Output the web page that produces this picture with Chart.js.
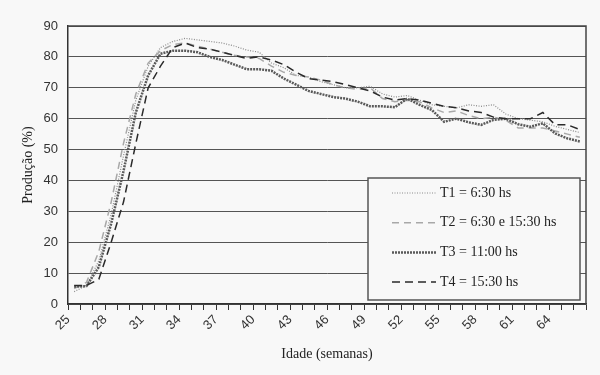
<!DOCTYPE html>
<html lang="pt">
<head>
<meta charset="UTF-8">
<title>Produção</title>
<script src="https://cdn.jsdelivr.net/npm/chart.js@4.4.1/dist/chart.umd.min.js"></script>
<style>
  html, body { margin: 0; padding: 0; background: #f8f8f8; }
  #wrap { width: 600px; height: 375px; }
</style>
</head>
<body>
<div id="wrap"><canvas id="chart" width="600" height="375"></canvas></div>
<script>
  // weeks of age (x) and production (%) per treatment
  const weeks = [25.5, 26.5, 27.5, 28.5, 29.5, 30.5, 31.5, 32.5, 33.5, 34.5,
    35.5, 36.5, 37.5, 38.5, 39.5, 40.5, 41.5, 42.5, 43.5, 44.5,
    45.5, 46.5, 47.5, 48.5, 49.5, 50.5, 51.5, 52.5, 53.5, 54.5,
    55.5, 56.5, 57.5, 58.5, 59.5, 60.5, 61.5, 62.5, 63.5, 64.5,
    65.5, 66.5];
  const t1 = [4, 6, 14, 29, 48, 66, 77, 83, 85, 86,
    85.5, 85, 84.5, 83.5, 82.2, 81.5, 78, 76.5, 74, 73.5,
    72, 71, 70, 70, 70.5, 68, 67, 67.5, 66, 64.5,
    64, 63.5, 64.5, 64, 64.5, 61.5, 60, 59.5, 59, 57.5,
    56.5, 55.5];
  const t2 = [5, 7, 17, 33, 52, 68, 78, 82, 84, 84.5,
    83.5, 82.5, 81.5, 80.5, 80, 79.5, 77, 75, 74, 73.5,
    72.5, 71, 70, 69.5, 70, 66.5, 65.5, 66, 65.5, 63.5,
    62, 62.5, 61, 60, 60.5, 59.5, 57, 57, 57, 56,
    55, 54];
  const t3 = [5.6, 5.8, 12, 26, 43, 62, 74, 81, 82, 82,
    81.5, 80, 79, 77.5, 76, 76, 75.5, 73, 71, 69,
    68, 67, 66.5, 65.5, 64, 64, 63.7, 66.5, 64.5, 62.8,
    59, 60, 58.8, 58, 59.6, 60, 58.2, 57.4, 58.5, 55.2,
    53.6, 52.6];
  const t4 = [6, 6, 8, 20, 33, 52, 70, 77, 83, 84.5,
    83, 82.5, 81.5, 80.5, 79.5, 80, 79, 77.5, 75, 73,
    72.5, 72, 71, 70, 69, 67, 66, 66.5, 66, 65,
    64, 63.5, 62.5, 62, 60.5, 60, 60, 60, 62, 58,
    58, 56.5];
  const seriesNames = ['T1 = 6:30 hs', 'T2 = 6:30 e 15:30 hs', 'T3 = 11:00 hs', 'T4 = 15:30 hs'];
  const xLabels = [25, 28, 31, 34, 37, 40, 43, 46, 49, 52, 55, 58, 61, 64];

  const BG = '#f8f8f8';

  function pts(values) {
    return values.map((v, i) => ({ x: weeks[i], y: v }));
  }

  const bgPlugin = {
    id: 'bg',
    beforeDraw(chart) {
      const ctx = chart.ctx;
      ctx.save();
      ctx.fillStyle = BG;
      ctx.fillRect(0, 0, chart.width, chart.height);
      ctx.restore();
    },
    beforeDatasetsDraw(chart) {
      const ctx = chart.ctx, a = chart.chartArea;
      ctx.save();
      ctx.strokeStyle = '#444';
      ctx.lineWidth = 1.5;
      ctx.beginPath();
      ctx.moveTo(a.left, a.top);
      ctx.lineTo(a.right, a.top);
      ctx.lineTo(a.right, a.bottom);
      ctx.stroke();
      ctx.restore();
    }
  };

  // legend box drawn inside the plot, lower right
  const boxLegend = {
    id: 'boxLegend',
    afterDatasetsDraw(chart) {
      const ctx = chart.ctx, a = chart.chartArea;
      const x0 = a.right - 218, y0 = a.top + 152, w = 212, h = 122;
      ctx.save();
      ctx.fillStyle = BG;
      ctx.fillRect(x0, y0, w, h);
      ctx.strokeStyle = '#555';
      ctx.lineWidth = 1.5;
      ctx.strokeRect(x0, y0, w, h);
      chart.data.datasets.forEach((ds, i) => {
        const y = y0 + 15 + i * 29.7;
        ctx.setLineDash(ds.borderDash || []);
        ctx.strokeStyle = ds.borderColor;
        ctx.lineWidth = ds.borderWidth;
        ctx.beginPath();
        ctx.moveTo(x0 + 24, y);
        ctx.lineTo(x0 + 68, y);
        ctx.stroke();
        ctx.setLineDash([]);
        ctx.fillStyle = '#222';
        ctx.font = '14px "Liberation Serif"';
        ctx.textBaseline = 'middle';
        ctx.fillText(ds.label, x0 + 72, y);
      });
      ctx.restore();
    }
  };

  new Chart(document.getElementById('chart'), {
    type: 'line',
    data: {
      datasets: [
        { label: seriesNames[0], data: pts(t1), borderColor: '#8a8a8a', borderWidth: 1.2, borderDash: [1, 1.5], order: 3 },
        { label: seriesNames[1], data: pts(t2), borderColor: '#a8a8a8', borderWidth: 1.5, borderDash: [7, 5], order: 2 },
        { label: seriesNames[2], data: pts(t3), borderColor: '#5a5a5a', borderWidth: 2.5, borderDash: [2, 1], order: 1 },
        { label: seriesNames[3], data: pts(t4), borderColor: '#2a2a2a', borderWidth: 1.5, borderDash: [8, 5], order: 0 }
      ]
    },
    options: {
      responsive: false,
      animation: false,
      devicePixelRatio: 1,
      layout: { padding: { top: 26, right: 14, left: 0, bottom: 0 } },
      elements: {
        point: { radius: 0 },
        line: { tension: 0, fill: false }
      },
      plugins: {
        legend: { display: false },
        tooltip: { enabled: false }
      },
      scales: {
        x: {
          type: 'linear',
          min: 25,
          max: 67,
          ticks: {
            stepSize: 1,
            autoSkip: false,
            maxRotation: 45,
            minRotation: 45,
            color: '#333',
            padding: 2,
            font: { family: 'Liberation Sans', size: 13 },
            callback: v => xLabels.includes(v) ? String(v) : ''
          },
          grid: { drawOnChartArea: false, drawTicks: true, tickLength: 6, color: '#333' },
          border: { color: '#333', width: 1.5 },
          title: {
            display: true,
            text: 'Idade (semanas)',
            color: '#222',
            font: { family: 'Liberation Serif', size: 14 },
            padding: { top: 0, bottom: 12 }
          },
          afterFit(s) { s.height = 71; }
        },
        y: {
          min: 0,
          max: 90,
          ticks: {
            stepSize: 10,
            color: '#333',
            padding: 10,
            font: { family: 'Liberation Sans', size: 13 }
          },
          grid: { color: '#555', drawTicks: false },
          border: { color: '#333', width: 1.5 },
          title: {
            display: true,
            text: 'Produção (%)',
            color: '#222',
            font: { family: 'Liberation Serif', size: 14 },
            padding: { top: 20, bottom: 0 }
          },
          afterFit(s) { s.width = 68; }
        }
      }
    },
    plugins: [bgPlugin, boxLegend]
  });
</script>
</body>
</html>
